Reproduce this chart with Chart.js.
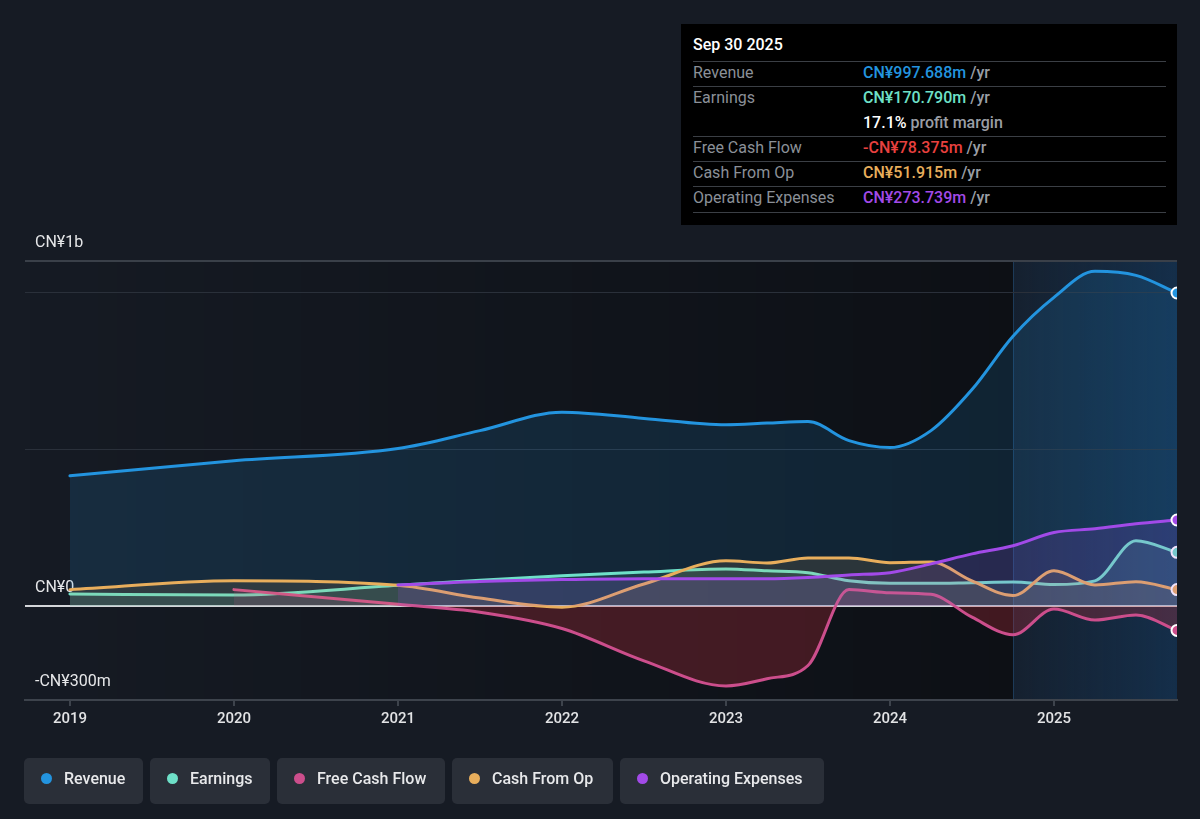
<!DOCTYPE html>
<html>
<head>
<meta charset="utf-8">
<script src="https://cdn.jsdelivr.net/npm/chart.js@4.4.1/dist/chart.umd.min.js"></script>
<style>
  html, body { margin: 0; padding: 0; background: #161b24; }
  body { width: 1200px; height: 819px; position: relative; overflow: hidden;
         font-family: Roboto, 'Noto Sans', 'DejaVu Sans', sans-serif; }
  #chart { position: absolute; left: 0; top: 0; }

  /* summary box, top right */
  .tip { position: absolute; left: 681px; top: 24px; width: 496px; height: 201px; background: #000; }
  .tip-date { position: absolute; left: 12px; top: 11px; color: #fff; font-size: 16px; font-weight: 500; }
  .tip-row { position: absolute; left: 12px; width: 473px; height: 25px; line-height: 22px;
             font-size: 16px; border-top: 1px solid #3b3f45; }
  .tip-row.noline { border-top: 1px solid transparent; }
  .tip-row.last { height: 0; }
  .tip-lbl { position: absolute; left: 0; color: #8b9098; }
  .tip-val { position: absolute; left: 170px; font-weight: 500; white-space: nowrap; }
  .tip-val small { font-size: 16px; color: #9a9ea5; font-weight: 500; }

  /* legend chips */
  .legend { position: absolute; left: 24px; top: 758px; display: flex; gap: 7px; }
  .chip { height: 46px; background: #2a2f38; border-radius: 5px; display: flex; align-items: center;
          box-sizing: border-box; padding-left: 17px; padding-bottom: 6px; color: #e8e9eb;
          font-size: 16px; font-weight: 500; }
  .chip i { width: 11px; height: 11px; border-radius: 50%; display: inline-block; margin-right: 12px; }
</style>
</head>
<body>
<canvas id="chart" width="1200" height="819"></canvas>

<div class="tip">
  <div class="tip-date">Sep 30 2025</div>
  <div class="tip-row" style="top:37px"><span class="tip-lbl">Revenue</span><span class="tip-val" style="color:#2394df">CN¥997.688m <small>/yr</small></span></div>
  <div class="tip-row" style="top:62px"><span class="tip-lbl">Earnings</span><span class="tip-val" style="color:#6ee0c8">CN¥170.790m <small>/yr</small></span></div>
  <div class="tip-row noline" style="top:87px"><span class="tip-val" style="color:#fff">17.1% <small>profit margin</small></span></div>
  <div class="tip-row" style="top:112px"><span class="tip-lbl">Free Cash Flow</span><span class="tip-val" style="color:#e8413f">-CN¥78.375m <small>/yr</small></span></div>
  <div class="tip-row" style="top:137px"><span class="tip-lbl">Cash From Op</span><span class="tip-val" style="color:#e8ae5c">CN¥51.915m <small>/yr</small></span></div>
  <div class="tip-row" style="top:162px"><span class="tip-lbl">Operating Expenses</span><span class="tip-val" style="color:#a24ae8">CN¥273.739m <small>/yr</small></span></div>
  <div class="tip-row last" style="top:188px"></div>
</div>

<div class="legend">
  <div class="chip" style="width:119px"><i style="background:#2394df"></i>Revenue</div>
  <div class="chip" style="width:120px"><i style="background:#6ee0c8"></i>Earnings</div>
  <div class="chip" style="width:168px"><i style="background:#cc4e8c"></i>Free Cash Flow</div>
  <div class="chip" style="width:161px"><i style="background:#e8ae5c"></i>Cash From Op</div>
  <div class="chip" style="width:204px"><i style="background:#a24ae8"></i>Operating Expenses</div>
</div>

<script>
// time axis (fractional years), values in CN¥ millions
const times = [2019, 2020, 2021, 2021.5, 2022, 2022.5, 2023, 2023.25, 2023.5, 2023.75,
               2024, 2024.25, 2024.5, 2024.75, 2025, 2025.25, 2025.5, 2025.75];

const revenue  = [415, 463, 502, 559, 618, 598, 578, 583, 588, 527, 505, 559, 690, 860, 984, 1067, 1054, 998];
const earnings = [38, 35, 66, 82, 96, 108, 118, 112, 106, 80, 72, 72, 74, 76, 68, 80, 208, 171];
const freeCash = [null, 52, 5, -20, -72, -175, -255, -232, -190, 52, 42, 37, -36, -92, -10, -45, -29, -78];
const cashOp   = [52, 80, 66, 25, -4, 70, 144, 137, 153, 153, 138, 140, 80, 33, 112, 67, 77, 52];
const opEx     = [null, null, 67, 78, 84, 87, 87, 87, 91, 99, 106, 134, 166, 192, 234, 246, 262, 274];

const xTicks = [2019, 2020, 2021, 2022, 2023, 2024, 2025];
const yTicks = [-300, 0, 500, 1000, 1100];
const yLabels = { '-300': '-CN¥300m', '0': 'CN¥0', '1100': 'CN¥1b' };

const X_MIN = 2018.726, X_MAX = 2025.75;
const LAST_YEAR = 2024.75;   // start of the highlighted trailing year

const FONT = "Roboto, 'Noto Sans', sans-serif";

function pts(vals) {
  return times.map((t, i) => ({ x: t, y: vals[i] }));
}

function series(label, vals, color, fill) {
  const last = vals.length - 1;
  return {
    label,
    data: pts(vals),
    borderColor: color,
    backgroundColor: fill,
    fill: typeof fill === 'string' ? 'origin' : fill,
    borderWidth: 3,
    cubicInterpolationMode: 'monotone',
    borderCapStyle: 'round',
    borderJoinStyle: 'round',
    pointRadius: ctx => ctx.dataIndex === last ? 5.5 : 0,
    pointHoverRadius: 0,
    pointBackgroundColor: color,
    pointBorderColor: '#ffffff',
    pointBorderWidth: 2,
    spanGaps: false,
    clip: 0
  };
}

// background bands: darkening past area + blue tint for trailing year
const bands = {
  id: 'bands',
  beforeDraw(chart) {
    const { ctx, chartArea: a, scales: { x } } = chart;
    const split = x.getPixelForValue(LAST_YEAR);
    ctx.save();
    let g = ctx.createLinearGradient(a.left, 0, split, 0);
    g.addColorStop(0, 'rgba(0,0,0,0)');
    g.addColorStop(1, 'rgba(0,0,0,0.4)');
    ctx.fillStyle = g;
    ctx.fillRect(a.left, a.top, split - a.left, a.bottom - a.top);

    g = ctx.createLinearGradient(split, 0, a.right, 0);
    g.addColorStop(0, 'rgba(20,60,100,0.18)');
    g.addColorStop(1, 'rgba(20,60,100,0.6)');
    ctx.fillStyle = g;
    ctx.fillRect(split, a.top, a.right - split, a.bottom - a.top);

    ctx.strokeStyle = 'rgba(40,90,140,0.45)';
    ctx.lineWidth = 1;
    ctx.beginPath();
    ctx.moveTo(split + 0.5, a.top);
    ctx.lineTo(split + 0.5, a.bottom);
    ctx.stroke();
    ctx.restore();
  }
};

new Chart(document.getElementById('chart'), {
  type: 'line',
  data: {
    datasets: [
      series('Operating Expenses', opEx, '#a24ae8', 'rgba(162,74,232,0.16)'),
      series('Cash From Op', cashOp, '#e8ae5c', 'rgba(232,174,92,0.12)'),
      series('Free Cash Flow', freeCash, '#cc4e8c',
             { target: 'origin', above: 'rgba(204,78,140,0.15)', below: 'rgba(200,45,60,0.28)' }),
      series('Earnings', earnings, '#6ee0c8', 'rgba(110,224,200,0.12)'),
      series('Revenue', revenue, '#2394df', 'rgba(35,148,223,0.15)')
    ]
  },
  options: {
    responsive: false,
    animation: false,
    events: [],
    layout: { padding: { left: 25, right: 23, top: 261, bottom: 79 } },
    plugins: { legend: { display: false }, tooltip: { enabled: false } },
    scales: {
      x: {
        type: 'linear',
        min: X_MIN,
        max: X_MAX,
        afterBuildTicks: s => { s.ticks = xTicks.map(v => ({ value: v })); },
        afterFit: s => { s.height = 40; },
        ticks: {
          color: '#e2e3e5',
          font: { family: FONT, size: 15, weight: '500' },
          padding: 4,
          maxRotation: 0,
          autoSkip: false,
          callback: v => String(v)
        },
        grid: { drawOnChartArea: false, drawTicks: true, tickLength: 6, color: '#3d434c', lineWidth: 2 },
        border: { display: true, color: '#3d434c', width: 2 }
      },
      y: {
        min: -300,
        max: 1100,
        afterBuildTicks: s => { s.ticks = yTicks.map(v => ({ value: v })); },
        afterFit: s => { s.width = 0; },
        ticks: {
          mirror: true,
          padding: 10,
          labelOffset: -18,
          color: '#e6e7e9',
          font: { family: FONT, size: 16 },
          callback: v => yLabels[String(v)] || ''
        },
        grid: {
          drawTicks: false,
          color: ctx => {
            const v = ctx.tick.value;
            if (v === 0) return '#d3d5d9';
            if (v === 1100) return '#3a4049';
            if (v === -300) return 'rgba(0,0,0,0)';
            return '#2a303a';
          },
          lineWidth: ctx => (ctx.tick.value === 0 || ctx.tick.value === 1100) ? 2 : 1
        },
        border: { display: false }
      }
    }
  },
  plugins: [bands]
});
</script>
</body>
</html>
